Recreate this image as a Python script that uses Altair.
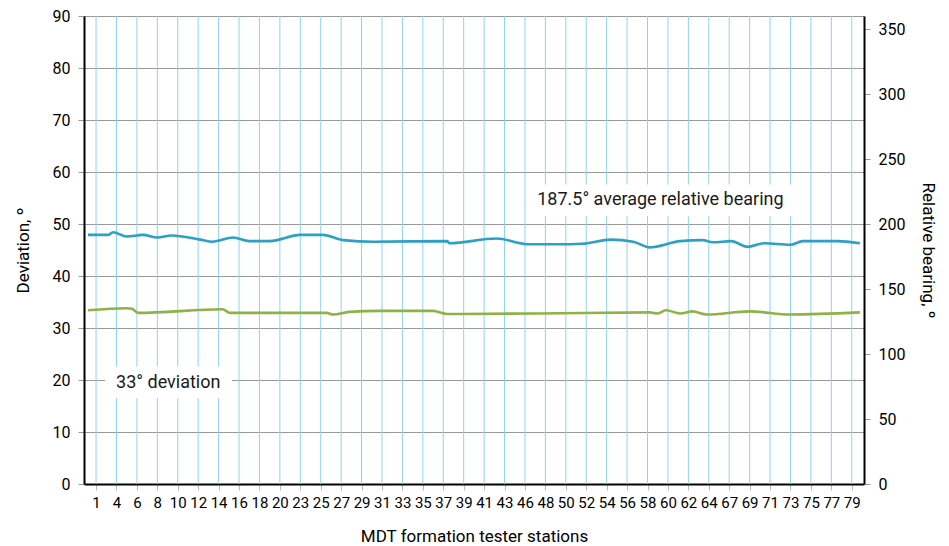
import altair as alt
import pandas as pd

FONT = "Roboto"

station_labels = ["1", "4", "6", "8", "10", "12", "14", "16", "18", "20", "23", "25", "27",
                  "29", "31", "33", "35", "37", "39", "41", "43", "46", "48", "50", "52",
                  "54", "56", "58", "60", "62", "64", "67", "69", "71", "73", "75", "77", "79"]
station_index = list(range(len(station_labels)))

# bearing line: position along the station axis (index units) and relative bearing (deg)
bearing_pos = [-0.4, 0.6, 0.83, 1.5, 2.3, 3.0, 3.7, 5.1, 5.7, 6.7, 7.5, 8.5, 10.0, 11.1,
               12.1, 13.6, 17.2, 17.3, 19.6, 21.2, 22.6, 23.8, 25.2, 26.3, 27.1, 28.6,
               29.7, 30.2, 31.1, 31.9, 32.7, 34.0, 34.6, 36.3, 37.4]
bearing_val = [191.6, 191.6, 193.6, 190.4, 191.6, 189.6, 191.2, 188.0, 186.4, 189.6, 186.8,
               186.8, 191.6, 191.6, 187.6, 186.4, 186.8, 185.2, 188.8, 184.4, 184.4, 184.8,
               188.0, 186.4, 182.0, 186.8, 187.6, 186.0, 186.8, 182.4, 185.2, 184.0, 186.8,
               186.8, 185.2]

# deviation line
dev_pos = [-0.4, 1.5, 1.76, 2.06, 6.2, 6.56, 11.3, 11.6, 12.4, 13.9, 16.5, 17.2, 21.6,
           27.1, 27.5, 27.9, 28.6, 29.2, 29.9, 32.0, 34.0, 37.4]
dev_val = [33.4, 33.8, 33.7, 32.9, 33.6, 32.9, 32.9, 32.6, 33.1, 33.3, 33.3, 32.7, 32.8,
           33.0, 32.8, 33.4, 32.8, 33.2, 32.6, 33.2, 32.6, 33.0]

# annotations (station-index units, deviation units)
ann_text = ["187.5° average relative bearing", "33° deviation"]
ann_x = [21.6, 0.98]
ann_y = [54.6, 19.5]
box_x1 = [21.1, 0.44]
box_x2 = [34.95, 6.66]
box_y1 = [51.5, 16.5]
box_y2 = [57.6, 22.6]

bear_df = pd.DataFrame({"pos": bearing_pos, "bearing": bearing_val})
dev_df = pd.DataFrame({"pos": dev_pos, "dev": dev_val})
grid_df = pd.DataFrame({"pos": station_index})
ann_df = pd.DataFrame({"text": ann_text, "x": ann_x, "y": ann_y,
                       "x1": box_x1, "x2": box_x2, "y1": box_y1, "y2": box_y2})

label_js = "[" + ",".join("'" + s + "'" for s in station_labels) + "][round(datum.value)]"

x_scale = alt.Scale(domain=[-0.59, 37.6], nice=False, zero=False)
x_axis = alt.Axis(values=station_index, tickCount=len(station_labels), labelExpr=label_js,
                  title="MDT formation tester stations", grid=False,
                  tickColor="#bbbbbb", tickSize=6,
                  domainColor="black", domainWidth=2, labelFontSize=15, titleFontSize=17,
                  labelFont=FONT, titleFont=FONT, labelColor="black", titleColor="black",
                  titleFontWeight="normal",
                  titlePadding=18, labelPadding=5, labelOverlap=False, labelFlush=False)

y_left = alt.Scale(domain=[0, 90], nice=False)
y_left_axis = alt.Axis(values=list(range(0, 91, 10)), title="Deviation, º", grid=True,
                       gridColor="#999999", gridWidth=1.2, tickColor="#999999", tickSize=6,
                       domainColor="black", domainWidth=2, labelFontSize=16,
                       titleFontSize=17, labelFont=FONT, titleFont=FONT,
                       titleFontWeight="normal",
                       labelColor="black", titleColor="black", titlePadding=20,
                       labelPadding=8)

y_right = alt.Scale(domain=[0, 360], nice=False)
y_right_axis = alt.Axis(values=list(range(0, 351, 50)), title="Relative bearing, º",
                        orient="right", grid=False, tickColor="#999999", tickSize=6,
                        domainColor="black", domainWidth=2, labelFontSize=16,
                        titleFontSize=17, labelFont=FONT, titleFont=FONT,
                        titleFontWeight="normal",
                        labelColor="black", titleColor="black", titlePadding=14,
                        labelPadding=8)

vgrid = alt.Chart(grid_df).mark_rule(color="#8fd3ee", strokeWidth=1).encode(
    x=alt.X("pos:Q", scale=x_scale, axis=x_axis),
)

dev_line = alt.Chart(dev_df).mark_line(color="#8db346", strokeWidth=2.6,
                                       interpolate="monotone").encode(
    x=alt.X("pos:Q", scale=x_scale, axis=x_axis),
    y=alt.Y("dev:Q", scale=y_left, axis=y_left_axis),
)

boxes = alt.Chart(ann_df).mark_rect(color="white").encode(
    x=alt.X("x1:Q", scale=x_scale),
    x2="x2:Q",
    y=alt.Y("y1:Q", scale=y_left),
    y2="y2:Q",
)

texts = alt.Chart(ann_df).mark_text(align="left", baseline="middle", fontSize=18,
                                    font=FONT, color="#1a1a1a").encode(
    x=alt.X("x:Q", scale=x_scale),
    y=alt.Y("y:Q", scale=y_left),
    text="text:N",
)

left_layer = alt.layer(vgrid, dev_line, boxes, texts)

bear_line = alt.Chart(bear_df).mark_line(color="#2ea0c4", strokeWidth=2.6,
                                         interpolate="monotone").encode(
    x=alt.X("pos:Q", scale=x_scale, axis=x_axis),
    y=alt.Y("bearing:Q", scale=y_right, axis=y_right_axis),
)

chart = alt.layer(left_layer, bear_line).resolve_scale(y="independent").properties(
    width=780, height=468,
    autosize=alt.AutoSizeParams(type="none"),
    padding={"left": 76, "top": 8, "right": 76, "bottom": 60},
).configure_view(stroke="black", strokeWidth=2).configure(background="white")

chart.save("out.html", embed_options={"renderer": "svg", "actions": False})
